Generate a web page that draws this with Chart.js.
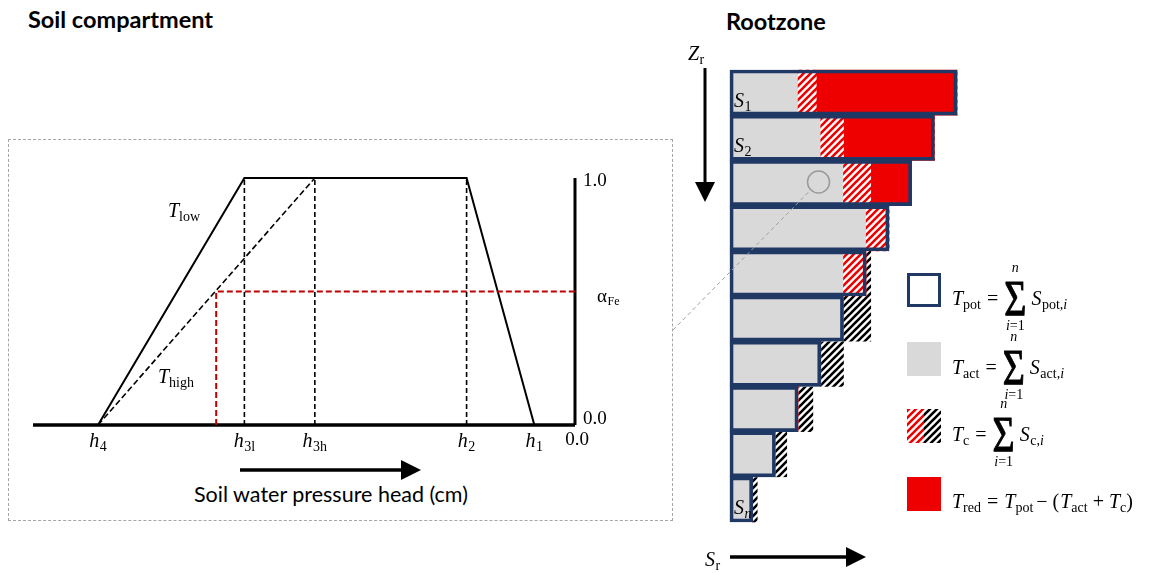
<!DOCTYPE html>
<html><head><meta charset="utf-8">
<script src="https://cdn.jsdelivr.net/npm/chart.js@4.4.1/dist/chart.umd.min.js"></script>
<style>
html,body{margin:0;padding:0;background:#fff;width:1160px;height:573px;overflow:hidden;}
#left{position:absolute;left:0;top:0;}
#right{position:absolute;left:660px;top:0;}
#box{position:absolute;left:8px;top:139px;width:665px;height:382px;border:1px dashed #a6a6a6;box-sizing:border-box;}
.title{position:absolute;font-family:Lato,"Open Sans",sans-serif;font-weight:bold;font-size:23.5px;line-height:24px;color:#000;white-space:nowrap;}
#xlab{position:absolute;left:194px;top:483px;width:272px;text-align:center;font-family:Lato,"Open Sans",sans-serif;font-size:21.5px;line-height:22px;color:#000;white-space:nowrap;}
</style></head>
<body>
<div id="box"></div>
<div class="title" style="left:28px;top:7px;">Soil compartment</div>
<div class="title" style="left:726px;top:9px;">Rootzone</div>
<div id="xlab">Soil water pressure head (cm)</div>
<canvas id="left" width="660" height="573"></canvas>
<canvas id="right" width="500" height="573"></canvas>
<script>
// ---------------- Soil compartment (schematic Feddes stress function) ----------------
const headNames   = ['4', '3l', '3h', '2', '1'];      // subscripts of h
const headValues  = [-88, -61, -48, -20, -7.5];        // schematic pressure-head positions
const headMin     = -100;
const alphaLevels = [0, 1];                            // y tick values
const alphaTickLabels = ['0.0', '1.0'];
const alphaFe     = 0.54;
const headFe      = -66.2;

// ---------------- Rootzone (per-layer uptake) ----------------
const layers     = ['S1','S2','S3','S4','S5','S6','S7','S8','S9','S10'];
const layerText  = ['1','2','','','','','','','','n'];
const sPot       = [10, 9, 8, 7, 6, 5, 4, 3, 2, 1];
const sAct       = [3, 4, 5, 6, 5, 5, 4, 3, 2, 1];
const sCompIn    = [0.8, 1, 1.2, 1, 1, 0, 0, 0, 0, 0];     // compensation inside potential (red hatch)
const sCompOut   = [0, 0, 0, 0, 0.2, 1.2, 1, 0.65, 0.5, 0.2]; // compensation beyond potential (black hatch)

const SERIF = '"Liberation Serif", "DejaVu Serif", serif';
const NAVY = '#1f3864', GRAY = '#d9d9d9', RED = '#ee0000', DRED = '#c00000';

function mathRun(ctx, segs, x, y, align) {
  let w = 0;
  segs.forEach(s => { ctx.font = s.f; w += ctx.measureText(s.t).width + (s.g || 0); });
  let cx = align === 'center' ? x - w / 2 : (align === 'right' ? x - w : x);
  ctx.textAlign = 'left'; ctx.textBaseline = 'alphabetic';
  segs.forEach(s => { ctx.font = s.f; ctx.fillText(s.t, cx, y + (s.dy || 0)); cx += ctx.measureText(s.t).width + (s.g || 0); });
  return cx;
}
const IT = 'italic 20px ' + SERIF, RM = '20px ' + SERIF, SUB = '14px ' + SERIF, SUBIT = 'italic 14px ' + SERIF;

function arrow(ctx, x1, y1, x2, y2, head, width) {
  const a = Math.atan2(y2 - y1, x2 - x1);
  const bx = x2 - head * Math.cos(a), by = y2 - head * Math.sin(a);
  ctx.save(); ctx.strokeStyle = '#000'; ctx.fillStyle = '#000'; ctx.lineWidth = width;
  ctx.beginPath(); ctx.moveTo(x1, y1); ctx.lineTo(bx, by); ctx.stroke();
  const hw = head * 0.5;
  ctx.beginPath(); ctx.moveTo(x2, y2);
  ctx.lineTo(bx + hw * Math.sin(a), by - hw * Math.cos(a));
  ctx.lineTo(bx - hw * Math.sin(a), by + hw * Math.cos(a));
  ctx.closePath(); ctx.fill(); ctx.restore();
}

// ---- left chart datasets built from the arrays
const [h4, h3l, h3h, h2, h1] = headValues;
const line = (pts, color, width, dash) => ({
  data: pts.map(p => ({x: p[0], y: p[1]})), showLine: true, borderColor: color, backgroundColor: color,
  borderWidth: width, borderDash: dash || [], pointRadius: 0, tension: 0, clip: false
});
const leftDatasets = [
  line([[h3l, 0], [h3l, 1]], '#000', 1.6, [5, 3]),
  line([[h3h, 0], [h3h, 1]], '#000', 1.6, [5, 3]),
  line([[h2, 0], [h2, 1]], '#000', 1.6, [5, 3]),
  line([[headFe, 0], [headFe, alphaFe], [0, alphaFe]], DRED, 2, [6, 3]),
  line([[h4, 0], [h3h, 1]], '#000', 1.6, [6, 3]),
  line([[h4, 0], [h3l, 1], [h2, 1], [h1, 0]], '#000', 2),
  line([[headMin, 0], [0, 0]], '#000', 3.5),
  line([[0, 0], [0, 1]], '#000', 3)
];

const leftLabels = {
  id: 'leftLabels',
  afterDraw(chart) {
    const {ctx, scales: {x, y}} = chart;
    ctx.save(); ctx.fillStyle = '#000';
    headValues.forEach((v, i) => {
      mathRun(ctx, [{t: 'h', f: IT, g: 0.5}, {t: headNames[i], f: SUB, dy: 4}], x.getPixelForValue(v), y.getPixelForValue(0) + 22, 'center');
    });
    ctx.font = '19px ' + SERIF; ctx.textAlign = 'center'; ctx.textBaseline = 'alphabetic';
    ctx.fillText('0.0', x.getPixelForValue(0) + 2, y.getPixelForValue(0) + 20);
    ctx.textAlign = 'left';
    alphaLevels.forEach((v, i) => {
      const py = y.getPixelForValue(v);
      ctx.fillText(alphaTickLabels[i], x.getPixelForValue(0) + 8, v === 1 ? py + 8 : py - 1);
    });
    mathRun(ctx, [{t: 'α', f: '19px ' + SERIF, g: 0.5}, {t: 'Fe', f: '12px ' + SERIF, dy: 3}], x.getPixelForValue(0) + 22, y.getPixelForValue(alphaFe) + 10, 'left');
    mathRun(ctx, [{t: 'T', f: IT, g: 0}, {t: 'low', f: SUB, dy: 4}], 168, 217, 'left');
    mathRun(ctx, [{t: 'T', f: IT, g: 0}, {t: 'high', f: SUB, dy: 4}], 158, 383, 'left');
    arrow(ctx, 240, 470, 421, 470, 20, 3.5);
    ctx.restore();
  }
};

new Chart(document.getElementById('left'), {
  type: 'scatter',
  data: {datasets: leftDatasets},
  options: {
    animation: false, responsive: false, devicePixelRatio: 1, events: [],
    layout: {padding: {left: 33, right: 85, top: 178, bottom: 148}},
    scales: {x: {type: 'linear', min: headMin, max: 0, display: false}, y: {min: 0, max: 1, display: false}},
    plugins: {legend: {display: false}, tooltip: {enabled: false}}
  },
  plugins: [leftLabels]
});

// ---- hatch patterns
function hatch(color, bg) {
  const s = 7, c = document.createElement('canvas'); c.width = s; c.height = s;
  const g = c.getContext('2d');
  if (bg) { g.fillStyle = bg; g.fillRect(0, 0, s, s); }
  g.strokeStyle = color; g.lineWidth = 2.6; g.lineCap = 'square';
  [[-s, 0], [0, 0], [s, 0]].forEach(([ox]) => { g.beginPath(); g.moveTo(ox, s); g.lineTo(ox + s, 0); g.stroke(); });
  return g.createPattern(c, 'repeat');
}
const redHatch = hatch(RED, '#ffffff');
const blackHatch = hatch('#000', null);

// ---- right chart datasets (floating bars built from the arrays)
const redStart = sAct.map((a, i) => a + sCompIn[i]);
const dsOutline = {data: sPot.map(p => [0, p]), backgroundColor: 'rgba(0,0,0,0)', borderColor: NAVY, borderWidth: 3, borderSkipped: false};
const dsAct = {data: sAct.map(a => [0, a]), backgroundColor: GRAY, borderWidth: 0};
const dsCompIn = {data: sAct.map((a, i) => [a, redStart[i]]), backgroundColor: redHatch, borderWidth: 0};
const dsRed = {data: sPot.map((p, i) => [redStart[i], Math.max(p, redStart[i])]), backgroundColor: RED, borderWidth: 0};
const dsCompOut = {data: sPot.map((p, i) => [p, p + sCompOut[i]]), backgroundColor: blackHatch, borderWidth: 0};

const rightDeco = {
  id: 'rightDeco',
  afterDatasetsDraw(chart) {
    const {ctx, scales: {x, y}} = chart;
    const off = 660; // canvas left in page coordinates
    ctx.save(); ctx.fillStyle = '#000';
    // layer labels
    layers.forEach((l, i) => {
      if (!layerText[i]) return;
      const bottom = y.getPixelForValue(i) + (y.getPixelForValue(1) - y.getPixelForValue(0)) / 2;
      mathRun(ctx, [{t: 'S', f: IT, g: 0.5}, {t: layerText[i], f: layerText[i] === 'n' ? SUBIT : SUB, dy: 4}], x.getPixelForValue(0) + 4, bottom - 8, 'left');
    });
    // zoom circle and connector
    const cx = x.getPixelForValue(3.9), cy = y.getPixelForValue(2) - 1;
    ctx.strokeStyle = '#9a9a9a'; ctx.lineWidth = 1.5;
    ctx.beginPath(); ctx.arc(cx, cy, 11, 0, Math.PI * 2); ctx.stroke();
    ctx.lineWidth = 1; ctx.setLineDash([4, 3]); ctx.strokeStyle = '#a0a0a0';
    ctx.beginPath(); ctx.moveTo(673 - off, 330); ctx.lineTo(cx - 8, cy + 8); ctx.stroke(); ctx.setLineDash([]);
    // axis arrows
    const x0 = x.getPixelForValue(0);
    arrow(ctx, 705 - off, 68, 705 - off, 202, 20, 3);
    mathRun(ctx, [{t: 'Z', f: IT, g: 0.5}, {t: 'r', f: SUB, dy: 4}], 688 - off, 60, 'left');
    arrow(ctx, x0, 557, 866 - off, 557, 20, 3.5);
    ctx.fillStyle = '#000';
    mathRun(ctx, [{t: 'S', f: IT, g: 0.5}, {t: 'r', f: SUB, dy: 4}], 705 - off, 566, 'left');
    // legend
    const bx = 907 - off, tops = [273, 342, 409, 477], bs = 34;
    ctx.lineWidth = 3; ctx.strokeStyle = NAVY; ctx.strokeRect(bx + 1.5, tops[0] + 1.5, bs - 3, bs - 3);
    ctx.fillStyle = GRAY; ctx.fillRect(bx, tops[1], bs, bs);
    ctx.fillStyle = redHatch; ctx.fillRect(bx, tops[2], bs / 2, bs);
    ctx.fillStyle = blackHatch; ctx.fillRect(bx + bs / 2, tops[2], bs / 2, bs);
    ctx.fillStyle = RED; ctx.fillRect(bx, tops[3], bs, bs);
    ctx.fillStyle = '#000';
    const tx = 952 - off;
    const sumRow = (top, sub, sSub) => {
      const b = top + 32;
      let px = mathRun(ctx, [{t: 'T', f: IT, g: 0}, {t: sub, f: SUB, dy: 4, g: 6}, {t: '=', f: RM, g: 6}], tx, b, 'left');
      ctx.font = '38px ' + SERIF; const sw = ctx.measureText('Σ').width;
      ctx.save(); ctx.translate(px, b + 10); ctx.scale(1, 1.35); ctx.fillText('Σ', 0, 0);
      ctx.lineWidth = 0.8; ctx.strokeStyle = '#000'; ctx.strokeText('Σ', 0, 0); ctx.restore();
      const sc = px + sw / 2;
      mathRun(ctx, [{t: 'n', f: SUBIT}], sc, b - 33, 'center');
      mathRun(ctx, [{t: 'i', f: SUBIT}, {t: '=1', f: SUB}], sc, b + 25, 'center');
      mathRun(ctx, [{t: 'S', f: IT, g: 0.5}, {t: sSub + ',', f: SUB, dy: 4}, {t: 'i', f: SUBIT, dy: 4}], px + sw + 5, b, 'left');
    };
    sumRow(tops[0], 'pot', 'pot');
    sumRow(tops[1], 'act', 'act');
    sumRow(tops[2], 'c', 'c');
    mathRun(ctx, [{t: 'T', f: IT}, {t: 'red', f: SUB, dy: 4, g: 6}, {t: '=', f: RM, g: 6}, {t: 'T', f: IT}, {t: 'pot', f: SUB, dy: 4, g: 3},
                  {t: '− (', f: RM, g: 1}, {t: 'T', f: IT}, {t: 'act', f: SUB, dy: 4, g: 5}, {t: '+', f: RM, g: 5}, {t: 'T', f: IT}, {t: 'c', f: SUB, dy: 4}, {t: ')', f: RM}], tx, tops[3] + 31, 'left');
    ctx.restore();
  }
};

new Chart(document.getElementById('right'), {
  type: 'bar',
  data: {labels: layers, datasets: [dsOutline, dsCompIn, dsRed, dsAct, dsCompOut]},
  options: {
    indexAxis: 'y', animation: false, responsive: false, devicePixelRatio: 1, events: [],
    layout: {padding: {left: 70, right: 203, top: 70, bottom: 51}},
    datasets: {bar: {grouped: false, barPercentage: 1, categoryPercentage: 1, clip: false}},
    scales: {x: {type: 'linear', min: 0, max: 10, display: false}, y: {type: 'category', display: false}},
    plugins: {legend: {display: false}, tooltip: {enabled: false}}
  },
  plugins: [rightDeco]
});
</script>
</body></html>
